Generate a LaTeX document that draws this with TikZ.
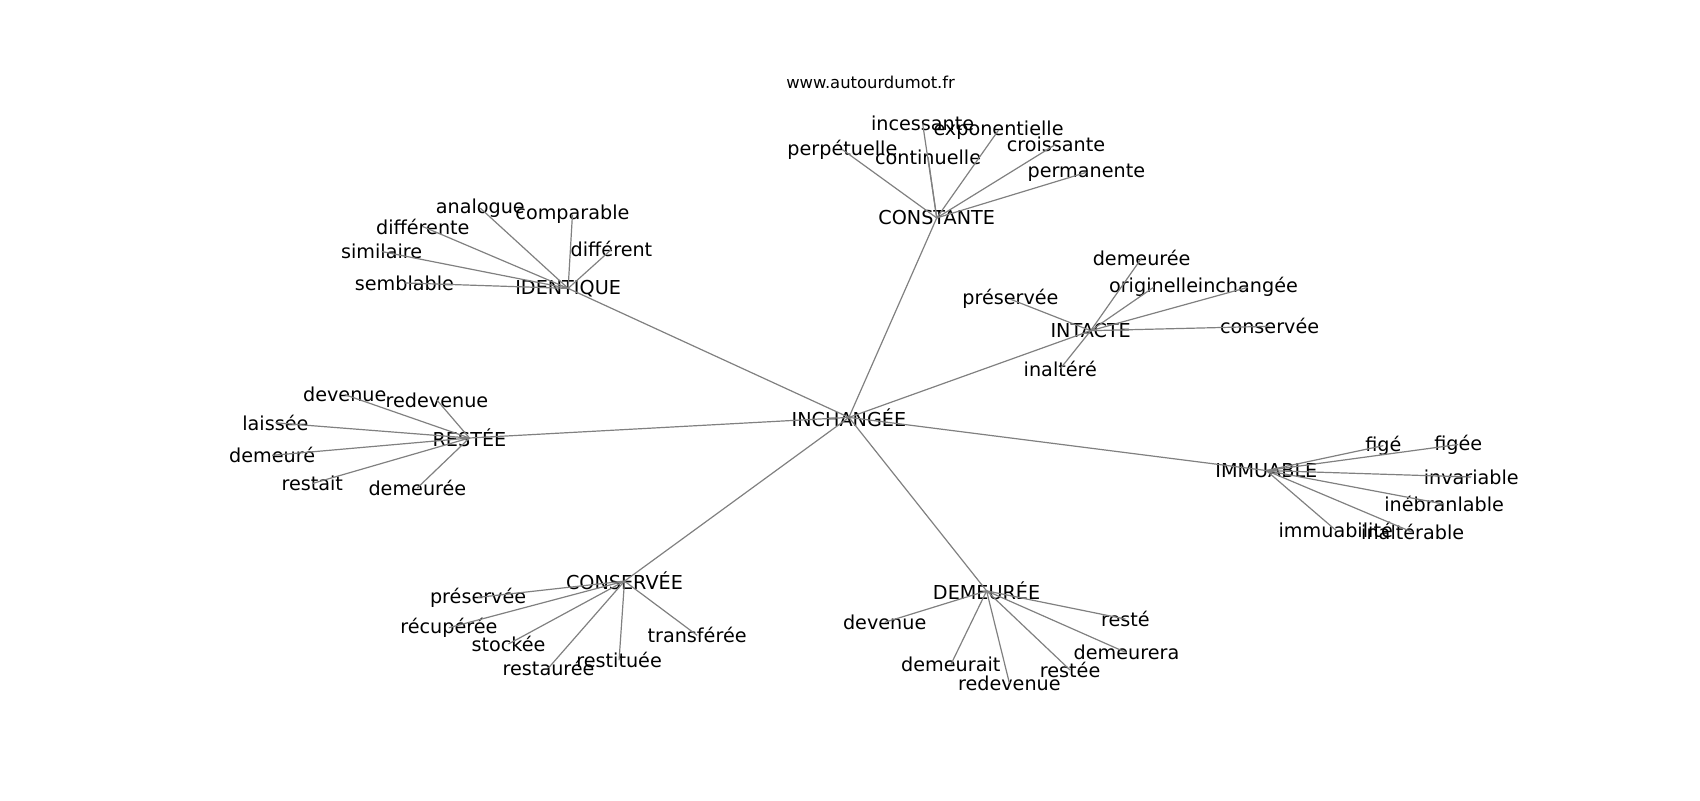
\documentclass[tikz,border=0pt]{standalone}
\usepackage{fontspec}
\setmainfont{DejaVu Sans}
\usepackage{xcolor}
\usepackage{tikz}

\begin{document}
\begin{tikzpicture}[x=0.5421pt,y=0.5421pt,yscale=-1,xscale=1,
  mot/.style={inner sep=0pt,font=\fontsize{9.6}{11}\selectfont},
  titre/.style={inner sep=0pt,font=\fontsize{8.2}{10}\selectfont},
  lien/.style={draw=gray,line width=0.6pt}]
\useasboundingbox (0,0) rectangle (1568,738);
\node [titre] (site) at (803,76) {www.autourdumot.fr};
% centre et groupes
\node [mot] (inchangee) at (783,385) {INCHANGÉE};
\node [mot] (constante) at (864,201) {CONSTANTE};
\node [mot] (identique) at (524,266) {IDENTIQUE};
\node [mot] (intacte) at (1006,305) {INTACTE};
\node [mot] (restee) at (433,404) {RESTÉE};
\node [mot] (immuable) at (1168,434) {IMMUABLE};
\node [mot] (conservee) at (576,536) {CONSERVÉE};
\node [mot] (demeuree) at (910,545) {DEMEURÉE};
% constante
\node [mot] (incessante) at (851,114) {incessante};
\node [mot] (exponentielle) at (921,120) {exponentielle};
\node [mot] (perpetuelle) at (777,138) {perpétuelle};
\node [mot] (continuelle) at (856,145) {continuelle};
\node [mot] (croissante) at (974,133) {croissante};
\node [mot] (permanente) at (1002,159) {permanente};
% identique
\node [mot] (analogue) at (443,192) {analogue};
\node [mot] (comparable) at (528,198) {comparable};
\node [mot] (differente) at (390,209) {différente};
\node [mot] (similaire) at (352,232) {similaire};
\node [mot] (different) at (564,230) {différent};
\node [mot] (semblable) at (373,261) {semblable};
% intacte
\node [mot] (demeureeI) at (1053,238) {demeurée};
\node [mot] (originelle) at (1064,265) {originelle};
\node [mot] (inchangeeI) at (1151,265) {inchangée};
\node [mot] (preserveeI) at (932,276) {préservée};
\node [mot] (conserveeI) at (1171,301) {conservée};
\node [mot] (inaltere) at (978,340) {inaltéré};
% restee
\node [mot] (devenueR) at (318,364) {devenue};
\node [mot] (redevenueR) at (403,369) {redevenue};
\node [mot] (laissee) at (254,390) {laissée};
\node [mot] (demeure) at (251,420) {demeuré};
\node [mot] (restait) at (288,446) {restait};
\node [mot] (demeureeR) at (385,450) {demeurée};
% immuable
\node [mot] (fige) at (1276,411) {figé};
\node [mot] (figee) at (1345,410) {figée};
\node [mot] (invariable) at (1357,440) {invariable};
\node [mot] (inebranlable) at (1332,465) {inébranlable};
\node [mot] (immuabilite) at (1232,489) {immuabilité};
\node [mot] (inalterable) at (1303,491) {inaltérable};
% conservee
\node [mot] (preserveeC) at (441,551) {préservée};
\node [mot] (recuperee) at (414,579) {récupérée};
\node [mot] (stockee) at (469,594) {stockée};
\node [mot] (restauree) at (506,616) {restaurée};
\node [mot] (restituee) at (571,609) {restituée};
\node [mot] (transferee) at (643,586) {transférée};
% demeuree
\node [mot] (devenueD) at (816,574) {devenue};
\node [mot] (reste) at (1038,571) {resté};
\node [mot] (demeurera) at (1039,602) {demeurera};
\node [mot] (resteeD) at (987,618) {restée};
\node [mot] (demeurait) at (877,613) {demeurait};
\node [mot] (redevenueD) at (931,630) {redevenue};
% liens
\foreach \g in {constante,identique,intacte,restee,immuable,conservee,demeuree}
  \draw [lien] (inchangee.center) -- (\g.center);
\foreach \f in {incessante,exponentielle,perpetuelle,continuelle,croissante,permanente}
  \draw [lien] (constante.center) -- (\f.center);
\foreach \f in {analogue,comparable,differente,similaire,different,semblable}
  \draw [lien] (identique.center) -- (\f.center);
\foreach \f in {demeureeI,originelle,inchangeeI,preserveeI,conserveeI,inaltere}
  \draw [lien] (intacte.center) -- (\f.center);
\foreach \f in {devenueR,redevenueR,laissee,demeure,restait,demeureeR}
  \draw [lien] (restee.center) -- (\f.center);
\foreach \f in {fige,figee,invariable,inebranlable,immuabilite,inalterable}
  \draw [lien] (immuable.center) -- (\f.center);
\foreach \f in {preserveeC,recuperee,stockee,restauree,restituee,transferee}
  \draw [lien] (conservee.center) -- (\f.center);
\foreach \f in {devenueD,reste,demeurera,resteeD,demeurait,redevenueD}
  \draw [lien] (demeuree.center) -- (\f.center);
\end{tikzpicture}
\end{document}
